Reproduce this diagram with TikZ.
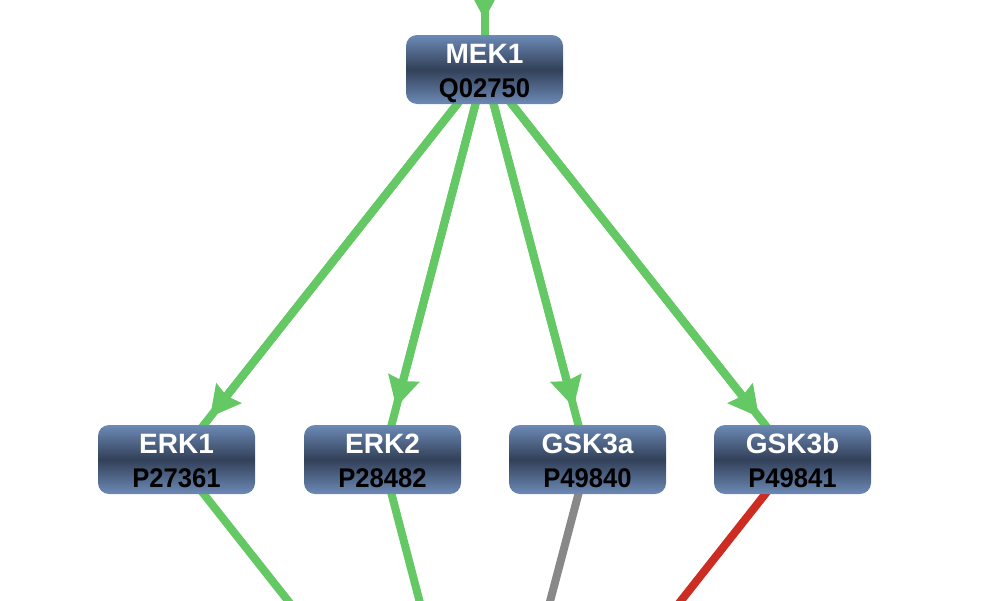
\documentclass[tikz,border=0pt]{standalone}
\usepackage{fontspec}
\setmainfont{Liberation Sans}
\newfontfamily\idfont[FakeStretch=0.95]{Liberation Sans}
\usetikzlibrary{arrows.meta,calc,backgrounds}
\definecolor{nodelight}{RGB}{108,138,182}
\definecolor{nodedark}{RGB}{50,64,88}
\definecolor{edgegreen}{RGB}{100,200,100}
\definecolor{edgegray}{RGB}{136,136,136}
\definecolor{edgered}{RGB}{204,44,34}
\tikzset{
  protein/.style={rounded corners=11pt, minimum width=157pt, minimum height=69pt,
    inner sep=0pt, top color=nodelight, bottom color=nodelight, middle color=nodedark},
  ptitle/.style={anchor=base, inner sep=0pt, text=white, font=\fontsize{28}{32}\selectfont\bfseries},
  pid/.style={anchor=base, inner sep=0pt, text=black, font=\idfont\fontsize{27}{32}\selectfont\bfseries},
  edge/.style={line width=8pt},
  activates/.style={edge, draw=edgegreen},
  neutral/.style={edge, draw=edgegray},
  inhibits/.style={edge, draw=edgered},
  tiponly/.style={-{Stealth[length=30pt,width=31pt,inset=3pt]}, edgegreen, line width=8pt},
}
\newcommand{\protnode}[5]{%
  \node[protein] (#1) at (#2,#3) {};
  \node[ptitle] (#1t) at ($(#1.center)+(0,-6.5)$) {#4};
  \node[pid] (#1i) at ($(#1.center)+(0,28)$) {#5};
}
\begin{document}
\begin{tikzpicture}[x=1pt,y=-1pt]
\useasboundingbox (0,0) rectangle (984,600);
\clip (0,0) rectangle (984,600);
\coordinate (above) at (484.5,-320.5);
\coordinate (below) at (484.5,849.5);
\protnode{mek}{484.5}{69.5}{MEK1}{Q02750}
\protnode{erka}{176.5}{459.5}{ERK1}{P27361}
\protnode{erkb}{382.5}{459.5}{ERK2}{P28482}
\protnode{gska}{587.5}{459.5}{GSK3a}{P49840}
\protnode{gskb}{792.5}{459.5}{GSK3b}{P49841}
\begin{scope}[on background layer]
  % incoming edge to MEK1
  \draw[activates] (above) -- (mek.center);
  \draw[tiponly] (above) -- ($(mek.center)!50pt!(above)$);
  % MEK1 to targets
  \foreach \t in {erka,erkb,gska,gskb}{
    \draw[activates] (mek.center) -- (\t.center);
    \draw[tiponly] (mek.center) -- ($(\t.center)!54pt!(mek.center)$);
  }
  % targets to the node below
  \draw[activates] (erka.center) -- (below);
  \draw[activates] (erkb.center) -- (below);
  \draw[neutral] (gska.center) -- (below);
  \draw[inhibits] (gskb.center) -- (below);
\end{scope}
\end{tikzpicture}
\end{document}
